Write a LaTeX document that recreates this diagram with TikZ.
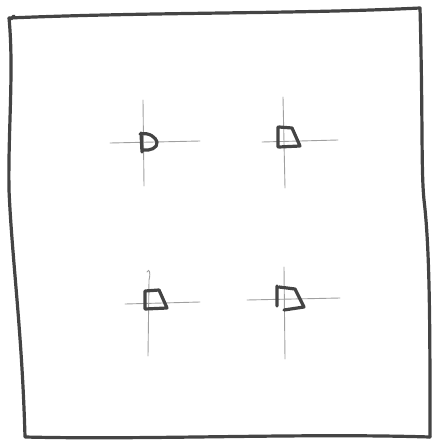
\documentclass[tikz,border=0pt]{standalone}
\usepackage{xcolor}
\usepackage{tikz}
\usetikzlibrary{positioning}
\definecolor{pencil}{HTML}{444444}
\definecolor{faint}{HTML}{A0A0A0}

\begin{document}
\begin{tikzpicture}[
  x=1pt, y=-1pt,
  frame/.style={draw=pencil, line width=3.2pt, line join=round, line cap=round},
  hair/.style={draw=faint, line width=0.9pt, line cap=round},
  target/.style={draw=pencil, line width=3.2pt, line join=round, line cap=round}
]
  \useasboundingbox (0,0) rectangle (432,441);

  % sheet border, drawn by hand
  \coordinate (tl) at (9,18);
  \coordinate (tr) at (420,8);
  \coordinate (br) at (430,437);
  \coordinate (bl) at (25,437);
  \draw[frame] (14,16) -- (11,19) (tl) .. controls (150,12) and (300,14) .. (tr)
    .. controls (423,120) and (421,170) .. (424,200)
    .. controls (430,250) and (430,330) .. (br);
  \draw[frame] (tl) .. controls (14,70) and (8,130) .. (9,190)
    .. controls (12,260) and (22,330) .. (bl)
    .. controls (150,440) and (300,433) .. (br);

  % crosshair centres
  \coordinate (c1) at (143,142);
  \coordinate (c2) at (284,141);
  \coordinate (c3) at (148,303);
  \coordinate (c4) at (284,299);

  % crosshairs
  \draw[hair] (143,100) -- (144,186);
  \draw[hair] (110,143) -- (200,141);
  \draw[hair] (283,97) -- (285,188);
  \draw[hair] (262,142) -- (338,140);
  \draw[hair] (147,272) .. controls (149,268) and (151,272) .. (149,280) -- (148,356);
  \draw[hair] (125,304) -- (200,302);
  \draw[hair] (284,267) -- (285,359);
  \draw[hair] (247,300) -- (340,298);

  % markers
  \draw[target] (141,133) -- (142,152) (140,134) .. controls (150,132) and (156,138) .. (157,142)
    .. controls (158,148) and (150,151) .. (143,150);
  \draw[target] (278,127) -- (278,147) (279,127) -- (292,128) -- (300,146) -- (279,147);
  \draw[target] (145,291) -- (145,309) (145,291) -- (159,290) -- (167,308) -- (145,309);
  \draw[target] (277,286) -- (277,306) (279,287) -- (295,289) -- (304,307) -- (284,310);
\end{tikzpicture}
\end{document}
